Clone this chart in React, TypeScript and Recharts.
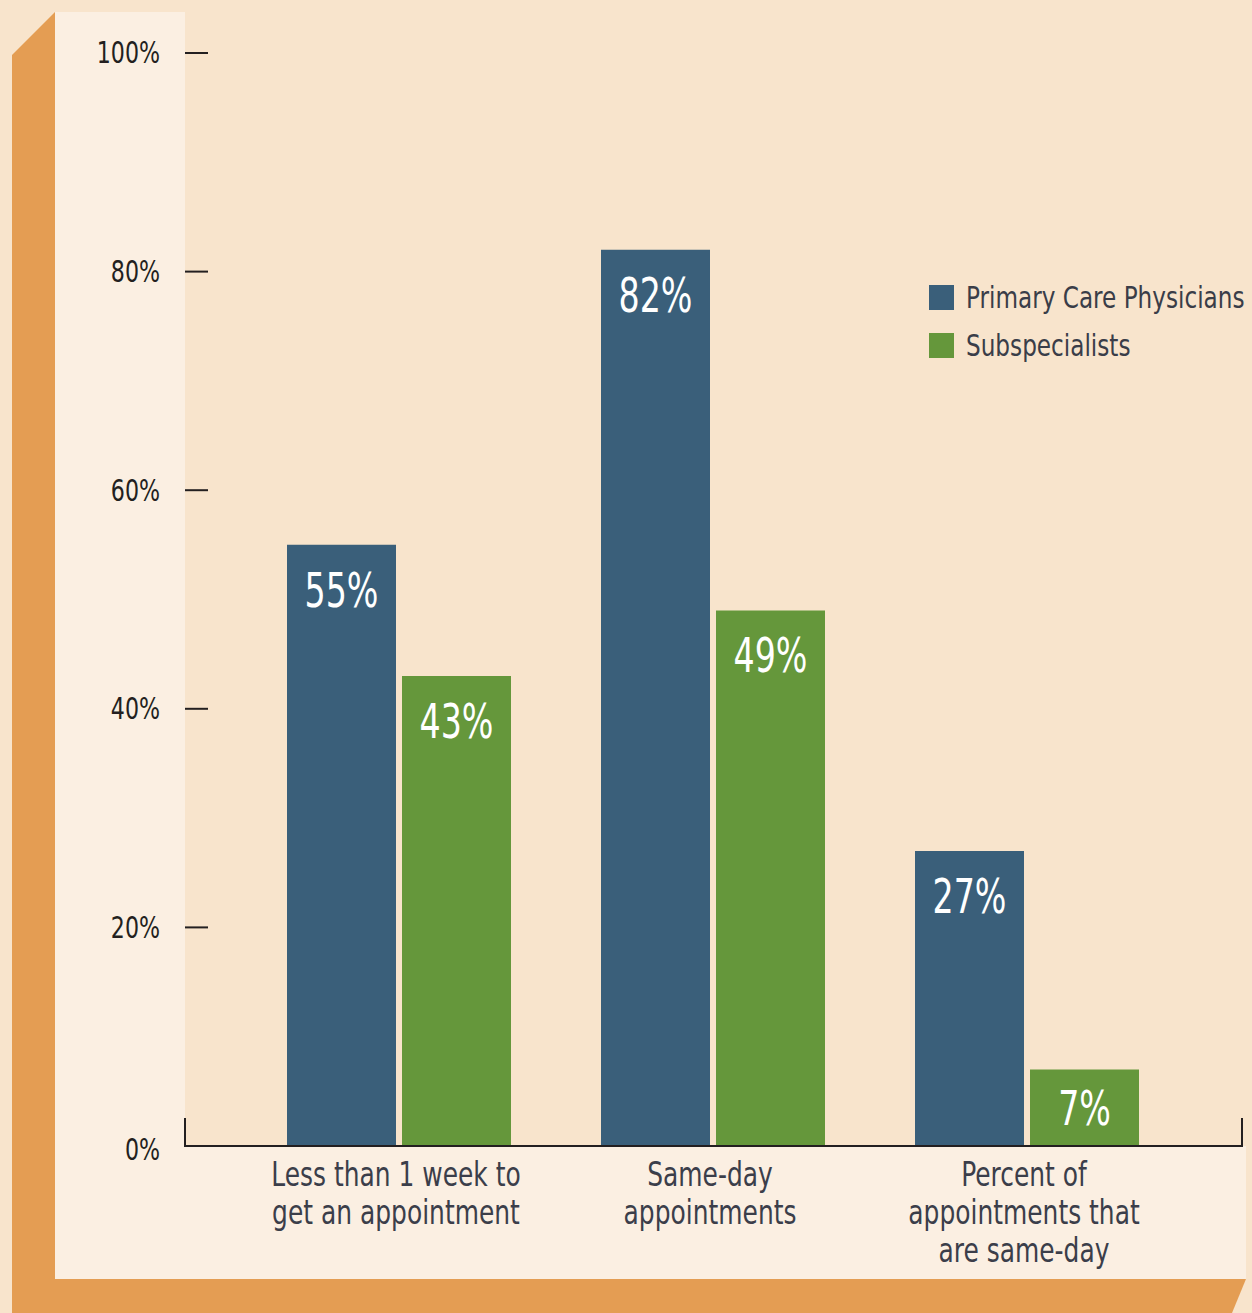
import React from 'react';
import { BarChart, Bar, XAxis, YAxis, LabelList } from 'recharts';

const categories = [
  'Less than 1 week to get an appointment',
  'Same-day appointments',
  'Percent of appointments that are same-day',
];
const categoryLines = [
  ['Less than 1 week to', 'get an appointment'],
  ['Same-day', 'appointments'],
  ['Percent of', 'appointments that', 'are same-day'],
];
const primaryCare = [55, 82, 27];
const subspecialists = [43, 49, 7];
const seriesNames = ['Primary Care Physicians', 'Subspecialists'];
const yTicks = [0, 20, 40, 60, 80, 100];

const BLUE = '#3A5F7A';
const GREEN = '#65973B';
const PEACH = '#F8E4CC';
const LIGHT = '#FBEFE2';
const ORANGE = '#E49D53';
const FONT = "'DejaVu Sans Condensed', 'Liberation Sans Narrow', sans-serif";
const STRETCH = 'condensed';

const data = categories.map((c, i) => ({
  category: c,
  primary: primaryCare[i],
  sub: subspecialists[i],
}));

// the reference face is a tall narrow grotesque, so squeeze the text sideways
const squeeze = (x: number, y: number, s: number) => `translate(${x} ${y}) scale(${s} 1)`;

const YTick = (props: any) => {
  const { y, payload } = props;
  const v = payload.value;
  return (
    <g>
      <g transform={squeeze(160, v === 0 ? y + 4 : y, 0.82)}>
        <text x={0} y={0} textAnchor="end" dominantBaseline="central"
          fontSize={30} fill="#231F20" fontFamily={FONT} style={{ fontStretch: STRETCH }}>{`${v}%`}</text>
      </g>
      {v !== 0 && <line x1={185} x2={208} y1={y} y2={y} stroke="#231F20" strokeWidth={2} />}
    </g>
  );
};

const XTick = (props: any) => {
  const { x, y, payload } = props;
  const lines = categoryLines[payload.index] || [payload.value];
  return (
    <g transform={squeeze(x - 3, y, 0.84)}>
      <text x={0} y={0} textAnchor="middle" fontSize={33} fill="#3B3E4A" fontFamily={FONT}
        style={{ fontStretch: STRETCH }}>
        {lines.map((l, i) => (
          <tspan key={i} x={0} y={40 + i * 38}>{l}</tspan>
        ))}
      </text>
    </g>
  );
};

const ValueLabel = (props: any) => {
  const { x, y, width, height, value } = props;
  const dy = Math.min(45, height / 2);
  return (
    <g transform={squeeze(x + width / 2, y + dy, 0.77)}>
      <text x={0} y={0} textAnchor="middle" dominantBaseline="central"
        fontSize={48} fill="#ffffff" fontFamily={FONT} style={{ fontStretch: STRETCH }}>{`${value}%`}</text>
    </g>
  );
};

const LegendBox = () => (
  <div style={{ position: 'absolute', top: 285, left: 929, fontFamily: FONT, fontStretch: STRETCH }}>
    {seriesNames.map((n, i) => (
      <div key={n} style={{ display: 'flex', alignItems: 'center', height: 25, marginBottom: 23 }}>
        <div style={{ width: 25, height: 25, flexShrink: 0, background: i === 0 ? BLUE : GREEN, marginRight: 12 }} />
        <span style={{
          display: 'inline-block', fontSize: 31, color: '#3A3D48', lineHeight: '25px', whiteSpace: 'nowrap',
          transform: 'scaleX(0.83)', transformOrigin: 'left center',
        }}>{n}</span>
      </div>
    ))}
  </div>
);

export default function App() {
  return (
    <div style={{ position: 'absolute', left: 0, top: 0, width: 1252, height: 1313, background: PEACH, overflow: 'hidden' }}>
      <svg width={1252} height={1313} style={{ position: 'absolute', left: 0, top: 0 }}>
        <polygon points="12,55 55,12 55,1313 12,1313" fill={ORANGE} />
        <polygon points="55,1279 1246,1279 1232,1313 55,1313" fill={ORANGE} />
        <rect x={55} y={12} width={130} height={1134} fill={LIGHT} />
        <rect x={55} y={1146} width={1191} height={133} fill={LIGHT} />
        <line x1={185} x2={185} y1={1118} y2={1147} stroke="#231F20" strokeWidth={2} />
        <line x1={1242} x2={1242} y1={1118} y2={1147} stroke="#231F20" strokeWidth={2} />
      </svg>
      <div style={{ position: 'absolute', left: 0, top: 0 }}>
        <BarChart width={1252} height={1313} data={data}
          margin={{ top: 53, right: 10, left: 55, bottom: 34 }} barGap={6}>
          <XAxis dataKey="category" interval={0} height={133} tickLine={false} tickSize={0} tickMargin={0}
            axisLine={{ stroke: '#231F20', strokeWidth: 2 }} padding={{ left: 57, right: 58 }} tick={<XTick />} />
          <YAxis domain={[0, 100]} ticks={yTicks} width={130} axisLine={false} tickLine={false} tick={<YTick />} />
          <Bar dataKey="primary" name={seriesNames[0]} fill={BLUE} barSize={109} isAnimationActive={false}>
            <LabelList dataKey="primary" content={<ValueLabel />} />
          </Bar>
          <Bar dataKey="sub" name={seriesNames[1]} fill={GREEN} barSize={109} isAnimationActive={false}>
            <LabelList dataKey="sub" content={<ValueLabel />} />
          </Bar>
        </BarChart>
      </div>
      <LegendBox />
    </div>
  );
}
